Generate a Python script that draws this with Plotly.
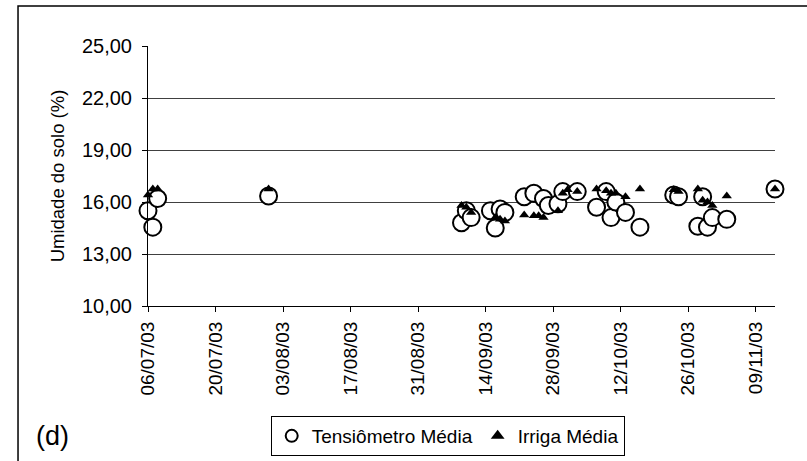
import plotly.graph_objects as go

tens_dates = ["2003-07-06", "2003-07-07", "2003-07-08", "2003-07-31",
              "2003-09-09", "2003-09-10", "2003-09-11",
              "2003-09-15", "2003-09-16", "2003-09-17", "2003-09-18",
              "2003-09-22", "2003-09-24", "2003-09-26", "2003-09-27", "2003-09-29",
              "2003-09-30", "2003-10-03", "2003-10-07", "2003-10-09", "2003-10-10",
              "2003-10-11", "2003-10-13", "2003-10-16", "2003-10-23", "2003-10-24",
              "2003-10-28", "2003-10-29", "2003-10-30", "2003-10-31", "2003-11-03",
              "2003-11-13"]
tens_vals = [15.5, 14.55, 16.2, 16.35,
             14.8, 15.5, 15.1,
             15.5, 14.5, 15.6, 15.4,
             16.3, 16.5, 16.2, 15.8, 15.9,
             16.6, 16.6, 15.7, 16.6, 15.1,
             16.0, 15.4, 14.55, 16.4, 16.3,
             14.6, 16.3, 14.55, 15.1, 15.0,
             16.75]

irr_dates = ["2003-07-06", "2003-07-07", "2003-07-08", "2003-07-31",
             "2003-09-09", "2003-09-10", "2003-09-11",
             "2003-09-16", "2003-09-17", "2003-09-18",
             "2003-09-22", "2003-09-24", "2003-09-25", "2003-09-26", "2003-09-29",
             "2003-09-30", "2003-10-01", "2003-10-03", "2003-10-07", "2003-10-09",
             "2003-10-10", "2003-10-11", "2003-10-13", "2003-10-16", "2003-10-23",
             "2003-10-24", "2003-10-28", "2003-10-29", "2003-10-30", "2003-10-31",
             "2003-11-03", "2003-11-13"]
irr_vals = [16.4, 16.75, 16.75, 16.75,
            15.8, 15.7, 15.4,
            15.1, 15.0, 14.9,
            15.25, 15.2, 15.2, 15.1, 15.5,
            16.5, 16.7, 16.6, 16.75, 16.65,
            16.5, 16.5, 16.3, 16.75, 16.7,
            16.6, 16.75, 16.1, 16.0, 15.8,
            16.35, 16.75]

x_tickvals = ["2003-07-06", "2003-07-20", "2003-08-03", "2003-08-17", "2003-08-31",
              "2003-09-14", "2003-09-28", "2003-10-12", "2003-10-26", "2003-11-09"]
x_ticktext = ["06/07/03", "20/07/03", "03/08/03", "17/08/03", "31/08/03",
              "14/09/03", "28/09/03", "12/10/03", "26/10/03", "09/11/03"]
y_tickvals = [10, 13, 16, 19, 22, 25]
y_ticktext = ["10,00", "13,00", "16,00", "19,00", "22,00", "25,00"]

FONT = "Liberation Sans, Arial, sans-serif"

fig = go.Figure()
fig.add_trace(go.Scatter(
    x=tens_dates, y=tens_vals, mode="markers", name="Tensiômetro Média",
    marker=dict(symbol="circle", size=17, color="white",
                line=dict(color="black", width=2)),
    cliponaxis=False))
fig.add_trace(go.Scatter(
    x=irr_dates, y=irr_vals, mode="markers", name="Irriga Média",
    marker=dict(symbol="triangle-up", size=9, color="black",
                line=dict(color="black", width=0)),
    cliponaxis=False))

fig.update_layout(
    width=807, height=461,
    margin=dict(l=148, r=32, t=46, b=155, autoexpand=False),
    paper_bgcolor="white", plot_bgcolor="white",
    font=dict(family=FONT, size=19, color="black"),
    showlegend=True,
    legend=dict(orientation="h", x=0.478, xanchor="center", y=-0.577, yanchor="bottom",
                bgcolor="white", bordercolor="black", borderwidth=1,
                font=dict(family=FONT, size=19, color="black"),
                itemsizing="constant", tracegroupgap=0, itemwidth=30),
    xaxis=dict(type="date", range=["2003-07-06", "2003-11-13"],
               tickvals=x_tickvals, ticktext=x_ticktext, tickangle=-90,
               ticks="outside", ticklen=5, tickcolor="black",
               showline=True, linecolor="black", linewidth=1,
               showgrid=False, zeroline=False, ticklabelstandoff=2,
               tickfont=dict(family=FONT, size=19, color="black")),
    yaxis=dict(range=[10, 25], tickvals=y_tickvals, ticktext=y_ticktext,
               ticks="outside", ticklen=5, tickcolor="black",
               showline=True, linecolor="black", linewidth=1,
               showgrid=True, gridcolor="#404040", gridwidth=1, zeroline=False,
               ticklabelstandoff=6,
               tickfont=dict(family=FONT, size=20, color="black"),
               title=dict(text="Umidade do solo (%)", standoff=12,
                          font=dict(family=FONT, size=18.5, color="black"))),
    shapes=[dict(type="rect", xref="paper", yref="paper",
                 x0=-0.2073, x1=1.3, y0=1.1538, y1=-0.8,
                 line=dict(color="black", width=1.5), fillcolor="rgba(0,0,0,0)",
                 layer="below")],
    annotations=[dict(text="(d)", xref="paper", yref="paper",
                      x=-0.182, y=-0.50, xanchor="left", yanchor="middle",
                      showarrow=False, font=dict(family=FONT, size=27, color="black"))],
)

fig.write_html("out.html", config={"displayModeBar": False},
               post_script="document.body.style.margin='0';document.body.style.overflow='hidden';")
